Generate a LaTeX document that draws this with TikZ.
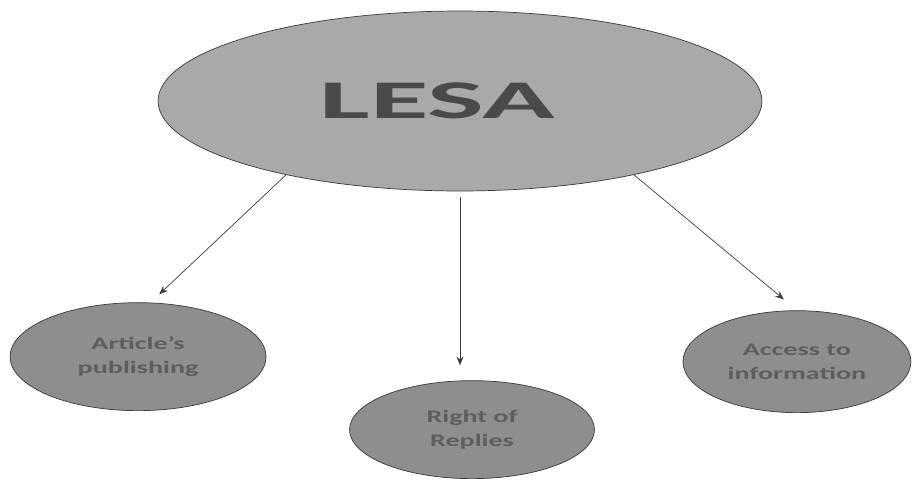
\documentclass[tikz,border=0pt]{standalone}
\usepackage{fontspec}
\setmainfont{Carlito}
\usepackage{tikz}
\usetikzlibrary{positioning, shapes.geometric, arrows.meta}
\definecolor{lesaFill}{HTML}{A9A9A9}
\definecolor{leafFill}{HTML}{8E8E8E}
\definecolor{lesaEdge}{HTML}{3A3A3A}
\definecolor{lesaText}{HTML}{4A4A4A}
\definecolor{leafText}{HTML}{5E5E5E}
\definecolor{arrGrey}{HTML}{3C3C3C}

\begin{document}
\begin{tikzpicture}[x=0.02cm, y=-0.02cm,
  hub/.style={ellipse, draw=lesaEdge, thin, fill=lesaFill, inner sep=0pt,
    minimum width=12.08cm, minimum height=3.6cm, text=lesaText,
    font=\fontsize{31}{31}\selectfont\bfseries},
  leaf/.style={ellipse, draw=lesaEdge, thin, fill=leafFill, inner sep=0pt,
    text=leafText, align=center, font=\fontsize{10}{13.5}\selectfont\bfseries},
  arr/.style={-{Stealth[length=5pt, width=4pt]}, arrGrey, thin}]

\useasboundingbox (0,0) rectangle (912,484);

\node[hub] (lesa) at (460,101) {\scalebox{2.2}[1]{LESA}\hspace*{0.9cm}};
\node[leaf, minimum width=5.12cm, minimum height=2.16cm,
  below=2.22cm of lesa, xshift=-6.44cm] (pub)
  {\scalebox{1.6}[1]{Article's}\\\scalebox{1.6}[1]{publishing}};
\node[leaf, minimum width=4.9cm, minimum height=1.96cm,
  below=3.78cm of lesa, xshift=0.24cm] (reply)
  {\scalebox{1.6}[1]{Right of}\\\scalebox{1.6}[1]{Replies}};
\node[leaf, minimum width=4.56cm, minimum height=2.04cm,
  below=2.38cm of lesa, xshift=6.74cm] (access)
  {\scalebox{1.6}[1]{Access to}\\\scalebox{1.6}[1]{information}};

\draw[arr, shorten >=0.24cm] (lesa.203) -- (pub.77);
\draw[arr, shorten <=0.12cm, shorten >=0.3cm] (lesa.south) -- (lesa.south |- reply.north);
\draw[arr, shorten >=0.34cm] (lesa.337) -- (access.north);
\end{tikzpicture}
\end{document}
